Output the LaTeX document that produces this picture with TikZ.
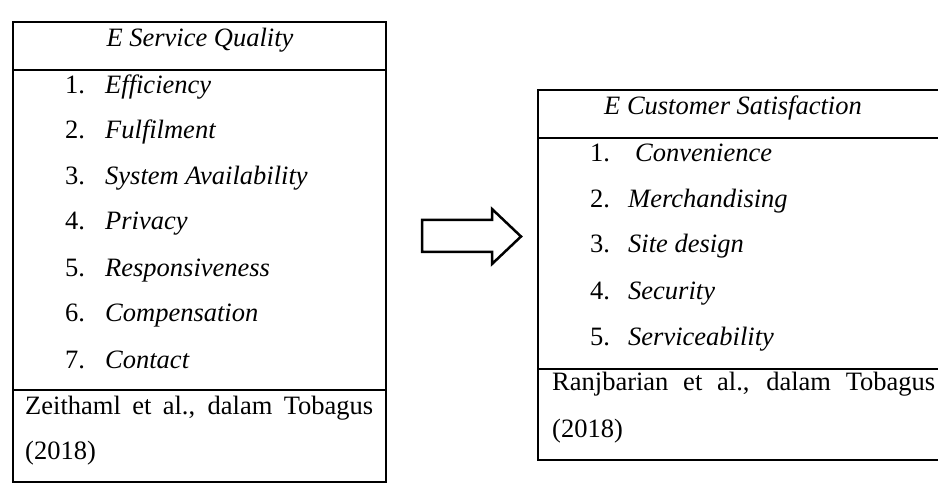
\documentclass[tikz,border=0pt]{standalone}
\usepackage{fontspec}
\setmainfont{Liberation Serif}
\tikzset{
    every node/.style={inner sep=0pt, font=\fontsize{26.5}{30}\selectfont}
}
\tikzset{
    box/.style={line width=1.2pt},
    head/.style={anchor=base},
    item/.style={anchor=base west},
    src/.style={anchor=base west}
}
\newcommand{\numbox}[2]{\makebox[#1][l]{#2}}

\begin{document}
\begin{tikzpicture}[x=1pt, y=-1pt]
	\useasboundingbox (0,0) rectangle (938,489);
	\clip (0,0) rectangle (938,489);

	% left table
	\draw[box] (13,22) rectangle (386,482);
	\draw[box] (13,70) -- (386,70);
	\draw[box] (13,390) -- (386,390);
	\node (hq) [head] at (200,47) {\textit{E Service Quality}};
	\node (q1) [item] at (65,94) {\numbox{40pt}{1.}\textit{Efficiency}};
	\node (q2) [item] at (65,139) {\numbox{40pt}{2.}\textit{Fulfilment}};
	\node (q3) [item] at (65,185) {\numbox{40pt}{3.}\textit{System Availability}};
	\node (q4) [item] at (65,230) {\numbox{40pt}{4.}\textit{Privacy}};
	\node (q5) [item] at (65,277) {\numbox{40pt}{5.}\textit{Responsiveness}};
	\node (q6) [item] at (65,322) {\numbox{40pt}{6.}\textit{Compensation}};
	\node (q7) [item] at (65,368) {\numbox{40pt}{7.}\textit{Contact}};
	\node (qs1) [src] at (25,414) {\makebox[348pt][s]{Zeithaml et al., dalam Tobagus}};
	\node (qs2) [src] at (25,459) {(2018)};

	% arrow
	\draw[line width=2.5pt, line join=miter] (422,220) -- (492,220) -- (492,209)
		-- (521,236.5) -- (492,264) -- (492,252) -- (422,252) -- cycle;

	% right table
	\draw[box] (538,90) rectangle (952,460);
	\draw[box] (538,138) -- (952,138);
	\draw[box] (538,369) -- (952,369);
	\node (hs) [head] at (733,115) {\textit{E Customer Satisfaction}};
	\node (s1) [item] at (590,162) {\numbox{45pt}{1.}\textit{Convenience}};
	\node (s2) [item] at (590,208) {\numbox{38pt}{2.}\textit{Merchandising}};
	\node (s3) [item] at (590,253) {\numbox{38pt}{3.}\textit{Site design}};
	\node (s4) [item] at (590,300) {\numbox{38pt}{4.}\textit{Security}};
	\node (s5) [item] at (590,345) {\numbox{38pt}{5.}\textit{Serviceability}};
	\node (ss1) [src] at (552,391) {\makebox[383pt][s]{Ranjbarian et al., dalam Tobagus}};
	\node (ss2) [src] at (552,437) {(2018)};
\end{tikzpicture}
\end{document}
